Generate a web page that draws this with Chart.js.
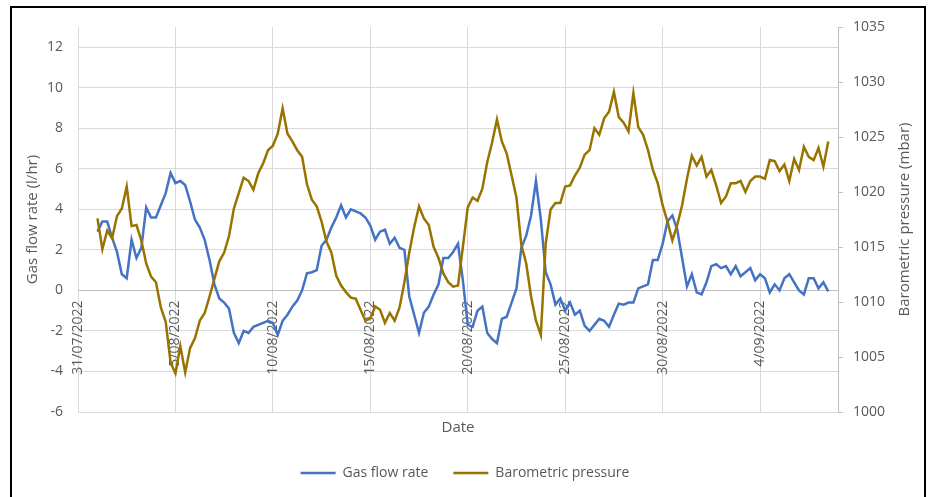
<!DOCTYPE html>
<html>
<head>
<meta charset="utf-8">
<script src="https://cdn.jsdelivr.net/npm/chart.js@4"></script>
<style>
  html, body { margin: 0; padding: 0; background: #fff; overflow: hidden; }
  #wrap { position: absolute; left: 0; top: 0; width: 930px; height: 497px; }
  #frame { position: absolute; left: 10px; top: 6px; width: 916px; height: 496px;
           box-sizing: border-box; border: 2px solid #000; pointer-events: none; }
</style>
</head>
<body>
<div id="wrap"><canvas id="flowChart"></canvas></div>
<div id="frame"></div>
<script>
// days counted from 31/07/2022 00:00, one reading every 6 hours
const startDay = 1;
const stepDays = 0.25;

const tickDays = [0, 5, 10, 15, 20, 25, 30, 35];
const tickLabels = ['31/07/2022', '5/08/2022', '10/08/2022', '15/08/2022',
                    '20/08/2022', '25/08/2022', '30/08/2022', '4/09/2022'];
const flowTicks = [-6, -4, -2, 0, 2, 4, 6, 8, 10, 12];
const pressureTicks = [1000, 1005, 1010, 1015, 1020, 1025, 1030, 1035];

// gas flow rate (l/hr)
const gasFlow = [
  2.9, 3.4, 3.4, 2.6,
  1.9, 0.8, 0.6, 2.5,
  1.6, 2.1, 4.1, 3.6,
  3.6, 4.2, 4.8, 5.8,
  5.3, 5.4, 5.2, 4.4,
  3.5, 3.1, 2.5, 1.5,
  0.3, -0.4, -0.6, -0.9,
  -2.1, -2.6, -2.0, -2.1,
  -1.8, -1.7, -1.6, -1.5,
  -1.6, -2.2, -1.5, -1.2,
  -0.8, -0.5, 0.0, 0.85,
  0.9, 1.0, 2.2, 2.5,
  3.1, 3.6, 4.2, 3.6,
  4.0, 3.9, 3.8, 3.6,
  3.2, 2.5, 2.9, 3.0,
  2.3, 2.6, 2.1, 2.0,
  -0.3, -1.2, -2.1, -1.1,
  -0.8, -0.2, 0.3, 1.6,
  1.6, 1.9, 2.3, 0.5,
  -1.7, -1.8, -1.0, -0.8,
  -2.1, -2.4, -2.6, -1.4,
  -1.3, -0.6, 0.1, 2.1,
  2.7, 3.7, 5.4, 3.5,
  0.9, 0.3, -0.7, -0.4,
  -1.0, -0.6, -1.2, -1.0,
  -1.75, -2.0, -1.7, -1.4,
  -1.5, -1.8, -1.2, -0.65,
  -0.7, -0.6, -0.6, 0.1,
  0.2, 0.3, 1.5, 1.5,
  2.3, 3.4, 3.7, 3.0,
  1.6, 0.2, 0.8, -0.1,
  -0.2, 0.4, 1.2, 1.3,
  1.1, 1.2, 0.8, 1.2,
  0.7, 0.9, 1.1, 0.5,
  0.8, 0.6, -0.1, 0.3,
  0.0, 0.6, 0.8, 0.4,
  0.0, -0.2, 0.6, 0.6,
  0.1, 0.4, -0.05
];

// barometric pressure (mbar)
const pressure = [
  1017.6, 1014.8, 1016.5, 1015.8,
  1017.8, 1018.5, 1020.5, 1016.9,
  1017.0, 1015.6, 1013.5, 1012.3,
  1011.8, 1009.5, 1008.2, 1004.5,
  1003.5, 1006.0, 1003.6, 1005.8,
  1006.7, 1008.3, 1009.0, 1010.5,
  1012.1, 1013.7, 1014.5, 1016.0,
  1018.5, 1019.9, 1021.3, 1021.0,
  1020.2, 1021.7, 1022.6, 1023.8,
  1024.2, 1025.3, 1027.6, 1025.3,
  1024.6, 1023.8, 1023.2, 1020.7,
  1019.3, 1018.7, 1017.3, 1015.5,
  1014.5, 1012.4, 1011.5, 1010.9,
  1010.4, 1010.3, 1009.3, 1008.3,
  1008.5, 1009.6, 1009.3, 1008.1,
  1009.0, 1008.3, 1009.5, 1011.8,
  1014.5, 1016.8, 1018.7, 1017.6,
  1017.0, 1015.0, 1014.0, 1012.6,
  1011.8, 1011.4, 1011.5, 1015.0,
  1018.6, 1019.5, 1019.2, 1020.3,
  1022.7, 1024.5, 1026.6, 1024.6,
  1023.5, 1021.5, 1019.5, 1015.2,
  1013.5, 1010.5, 1008.3, 1007.0,
  1015.3, 1018.4, 1019.0, 1019.0,
  1020.5, 1020.6, 1021.5, 1022.2,
  1023.4, 1023.8, 1025.8, 1025.2,
  1026.7, 1027.3, 1029.1, 1026.8,
  1026.3, 1025.5, 1029.0, 1025.9,
  1025.2, 1023.8, 1022.0, 1020.8,
  1018.8, 1017.3, 1015.6, 1017.0,
  1018.8, 1021.2, 1023.3, 1022.4,
  1023.2, 1021.4, 1022.0, 1020.6,
  1019.0, 1019.6, 1020.8, 1020.8,
  1021.0, 1020.0, 1021.0, 1021.4,
  1021.4, 1021.2, 1022.9, 1022.8,
  1021.9, 1022.5, 1021.0, 1023.0,
  1022.0, 1024.1, 1023.2, 1022.9,
  1024.0, 1022.3, 1024.6
];

const textColor = '#595959';
const gridColor = '#d9d9d9';
const axisColor = '#bfbfbf';

Chart.defaults.font.family = "'Open Sans', sans-serif";
Chart.defaults.font.size = 14;
Chart.defaults.color = textColor;

function toPoints(values) {
  return values.map((v, i) => ({ x: startDay + i * stepDays, y: v }));
}

// right-hand title reads bottom to top, like the left one
const rightTitle = {
  id: 'rightTitle',
  afterDraw(chart) {
    const ctx = chart.ctx;
    const area = chart.chartArea;
    ctx.save();
    ctx.translate(chart.scales.y1.right - 25, (area.top + area.bottom) / 2);
    ctx.rotate(-Math.PI / 2);
    ctx.font = "15px 'Open Sans', sans-serif";
    ctx.fillStyle = textColor;
    ctx.textAlign = 'center';
    ctx.textBaseline = 'middle';
    ctx.fillText('Barometric pressure (mbar)', 0, 0);
    ctx.restore();
  }
};

const ctx = document.getElementById('flowChart').getContext('2d');
const chart = new Chart(ctx, {
  type: 'line',
  data: {
    datasets: [{
      label: 'Gas flow rate',
      data: toPoints(gasFlow),
      yAxisID: 'y',
      borderColor: '#4472c4',
      backgroundColor: '#4472c4',
      borderWidth: 2.5,
      pointRadius: 0,
      tension: 0,
      order: 1
    }, {
      label: 'Barometric pressure',
      data: toPoints(pressure),
      yAxisID: 'y1',
      borderColor: '#997300',
      backgroundColor: '#997300',
      borderWidth: 2.5,
      pointRadius: 0,
      tension: 0,
      order: 0
    }]
  },
  options: {
    responsive: true,
    maintainAspectRatio: false,
    animation: false,
    layout: { padding: { top: 27, left: 0, right: 0, bottom: 7 } },
    plugins: {
      tooltip: { enabled: false },
      legend: {
        position: 'bottom',
        labels: {
          usePointStyle: true,
          pointStyle: 'line',
          pointStyleWidth: 35,
          padding: 25,
          color: textColor,
          font: { size: 14 },
          sort: (a, b) => a.datasetIndex - b.datasetIndex
        }
      }
    },
    scales: {
      x: {
        type: 'linear',
        min: 0,
        max: 39,
        position: { y: 0 },
        afterBuildTicks: s => { s.ticks = tickDays.map(v => ({ value: v })); },
        ticks: {
          callback: (v, i) => tickLabels[i],
          minRotation: 90,
          maxRotation: 90,
          autoSkip: false,
          padding: 10
        },
        grid: { color: gridColor, drawTicks: false },
        border: { color: axisColor }
      },
      x2: {
        type: 'linear',
        position: 'bottom',
        afterFit: s => { s.height = 29; },
        ticks: { display: false },
        grid: { display: false },
        border: { display: false },
        title: { display: true, text: 'Date', font: { size: 15 }, padding: { top: 0, bottom: 4 } }
      },
      y: {
        position: 'left',
        min: -6,
        max: 13,
        afterBuildTicks: s => { s.ticks = flowTicks.map(v => ({ value: v })); },
        afterFit: s => { s.width = 78; },
        ticks: { padding: 15, callback: v => String(v) },
        grid: {
          color: c => (c.tick && c.tick.value === 0 ? axisColor : gridColor),
          drawTicks: false
        },
        border: { display: false },
        title: { display: true, text: 'Gas flow rate (l/hr)', font: { size: 15 }, padding: { top: 24, bottom: 0 } }
      },
      y1: {
        position: 'right',
        min: 1000,
        max: 1035,
        afterBuildTicks: s => { s.ticks = pressureTicks.map(v => ({ value: v })); },
        afterFit: s => { s.width = 92; },
        ticks: { padding: 10, callback: v => String(v) },
        grid: { drawOnChartArea: false, color: axisColor, tickLength: 5 },
        border: { color: axisColor }
      }
    }
  },
  plugins: [rightTitle]
});
</script>
</body>
</html>
